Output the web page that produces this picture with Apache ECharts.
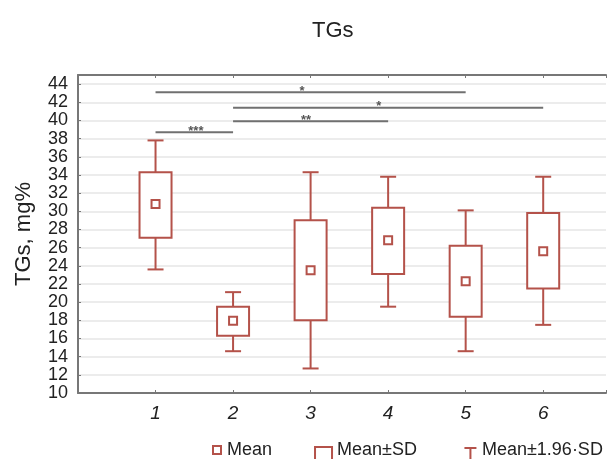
<!DOCTYPE html>
<html>
<head>
<meta charset="utf-8">
<script src="https://cdn.jsdelivr.net/npm/echarts@6/dist/echarts.min.js"></script>
<style>
  html, body { margin: 0; padding: 0; background: #fff; }
  #chart { width: 609px; height: 459px; }
</style>
</head>
<body>
<div id="chart"></div>
<script>
// groups on the x axis
var groups = ['1', '2', '3', '4', '5', '6'];
// mean and the two ranges, mg%
var means  = [30.8, 17.95, 23.5, 26.8, 22.3, 25.6];
var sdLow  = [27.1, 16.3, 18.0, 23.1, 18.4, 21.5];
var sdHigh = [34.3, 19.5, 29.0, 30.4, 26.2, 29.8];
var ciLow  = [23.6, 14.6, 12.7, 19.5, 14.6, 17.5];
var ciHigh = [37.8, 21.1, 34.3, 33.8, 30.1, 33.8];

// significance brackets
var sigFrom  = [1, 2, 2, 1];
var sigTo    = [5, 6, 4, 2];
var sigLevel = [43.1, 41.4, 39.9, 38.7];
var sigStarX = [2.89, 3.88, 2.94, 1.52];
var sigText  = ['*', '*', '**', '***'];

var boxColor = '#b4524a';
var axisColor = '#777';
var font = 'Liberation Sans, Arial, sans-serif';

var boxData = [], meanData = [], whiskerData = [], sigData = [];
for (var i = 0; i < groups.length; i++) {
  var x = i + 1;
  meanData.push([x, means[i]]);
  boxData.push([x, sdLow[i], sdHigh[i]]);
  whiskerData.push([x, ciLow[i], ciHigh[i], sdLow[i], sdHigh[i]]);
}
for (var j = 0; j < sigFrom.length; j++) {
  sigData.push([sigFrom[j], sigTo[j], sigLevel[j], sigStarX[j]]);
}

var chart = echarts.init(document.getElementById('chart'));

function renderBox(params, api) {
  var x = api.value(0);
  var lo = api.coord([x, api.value(1)]);
  var hi = api.coord([x, api.value(2)]);
  return {
    type: 'rect',
    shape: { x: lo[0] - 16, y: hi[1], width: 32, height: lo[1] - hi[1] },
    style: { fill: '#fff', stroke: boxColor, lineWidth: 2 }
  };
}

function renderMean(params, api) {
  var p = api.coord([api.value(0), api.value(1)]);
  return {
    type: 'rect',
    shape: { x: p[0] - 4, y: p[1] - 4, width: 8, height: 8 },
    style: { fill: '#fff', stroke: boxColor, lineWidth: 2 }
  };
}

function renderWhisker(params, api) {
  var x = api.value(0);
  var lo = api.coord([x, api.value(1)]);
  var hi = api.coord([x, api.value(2)]);
  var bLo = api.coord([x, api.value(3)]);
  var bHi = api.coord([x, api.value(4)]);
  var st = { stroke: boxColor, lineWidth: 2 };
  return {
    type: 'group',
    children: [
      { type: 'line', shape: { x1: hi[0], y1: hi[1], x2: bHi[0], y2: bHi[1] }, style: st },
      { type: 'line', shape: { x1: lo[0], y1: lo[1], x2: bLo[0], y2: bLo[1] }, style: st },
      { type: 'line', shape: { x1: hi[0] - 8, y1: hi[1], x2: hi[0] + 8, y2: hi[1] }, style: st },
      { type: 'line', shape: { x1: lo[0] - 8, y1: lo[1], x2: lo[0] + 8, y2: lo[1] }, style: st }
    ]
  };
}

function renderSig(params, api) {
  var a = api.coord([api.value(0), api.value(2)]);
  var b = api.coord([api.value(1), api.value(2)]);
  var s = api.coord([api.value(3), api.value(2)]);
  return {
    type: 'group',
    children: [
      { type: 'line', shape: { x1: a[0], y1: a[1], x2: b[0], y2: b[1] },
        style: { stroke: '#707070', lineWidth: 2 } },
      { type: 'text', x: s[0], y: a[1] - 1,
        style: { text: sigText[params.dataIndex], fill: '#555', font: 'bold 13px ' + font,
                 align: 'center', verticalAlign: 'middle' } }
    ]
  };
}

var option = {
  animation: false,
  backgroundColor: '#fff',
  title: {
    text: 'TGs',
    left: 307,
    top: 15,
    textStyle: { fontFamily: font, fontSize: 22, fontWeight: 'normal', color: '#222' }
  },
  legend: {
    left: 203,
    top: 435,
    width: 420,
    padding: 0,
    itemWidth: 18,
    itemHeight: 28,
    itemGap: 41,
    textStyle: { fontFamily: font, fontSize: 18, color: '#222' },
    data: [
      { name: 'Mean', icon: 'path://M0,0M18,28M9,10L17,10L17,18L9,18Z',
        itemStyle: { color: 'transparent', borderColor: boxColor, borderWidth: 2 } },
      { name: 'Mean±SD', icon: 'path://M0,0M18,28M1,28L1,11L18,11L18,28',
        itemStyle: { color: 'transparent', borderColor: boxColor, borderWidth: 2 } },
      { name: 'Mean±1.96·SD', icon: 'path://M0,0M18,28M5.5,12L17.5,12M11.5,12L11.5,28',
        itemStyle: { color: 'transparent', borderColor: boxColor, borderWidth: 2 } }
    ]
  },
  grid: { left: 78, right: 0, top: 75, bottom: 66 },
  xAxis: [
    {
      type: 'value',
      min: 0,
      max: 6.81,
      interval: 1,
      position: 'bottom',
      axisLine: { lineStyle: { color: axisColor, width: 2 } },
      axisTick: { inside: true, length: 3, lineStyle: { color: axisColor } },
      splitLine: { show: false },
      axisLabel: {
        margin: 11,
        fontFamily: font,
        fontSize: 19,
        fontStyle: 'italic',
        color: '#222',
        formatter: function (v) {
          return (v >= 1 && v <= groups.length && v === Math.round(v)) ? groups[v - 1] : '';
        }
      }
    },
    {
      type: 'value',
      min: 0,
      max: 6.81,
      interval: 1,
      position: 'top',
      axisLine: { lineStyle: { color: axisColor, width: 2 } },
      axisTick: { inside: true, length: 3, lineStyle: { color: axisColor } },
      splitLine: { show: false },
      axisLabel: { show: false }
    }
  ],
  yAxis: {
    type: 'value',
    min: 10,
    max: 45,
    interval: 2,
    name: 'TGs, mg%',
    nameLocation: 'middle',
    nameGap: 43,
    nameTextStyle: { fontFamily: font, fontSize: 22, color: '#222' },
    axisLine: { show: true, lineStyle: { color: axisColor, width: 2 } },
    axisTick: { show: true, inside: true, length: 3, lineStyle: { color: axisColor } },
    splitLine: { lineStyle: { color: '#e6e6e6', width: 1.5 } },
    axisLabel: {
      margin: 10,
      fontFamily: font,
      fontSize: 18,
      color: '#222',
      formatter: function (v) { return v % 2 === 0 ? String(v) : ''; }
    }
  },
  series: [
    { name: 'Mean±1.96·SD', type: 'custom', renderItem: renderWhisker, data: whiskerData,
      itemStyle: { color: boxColor }, encode: { x: 0, y: [1, 2] } },
    { name: 'Mean±SD', type: 'custom', renderItem: renderBox, data: boxData,
      itemStyle: { color: boxColor }, encode: { x: 0, y: [1, 2] } },
    { name: 'Mean', type: 'custom', renderItem: renderMean, data: meanData,
      itemStyle: { color: boxColor }, encode: { x: 0, y: 1 } },
    { name: 'sig', type: 'custom', renderItem: renderSig, data: sigData,
      encode: { x: [0, 1], y: 2 } }
  ]
};

chart.setOption(option);
</script>
</body>
</html>
